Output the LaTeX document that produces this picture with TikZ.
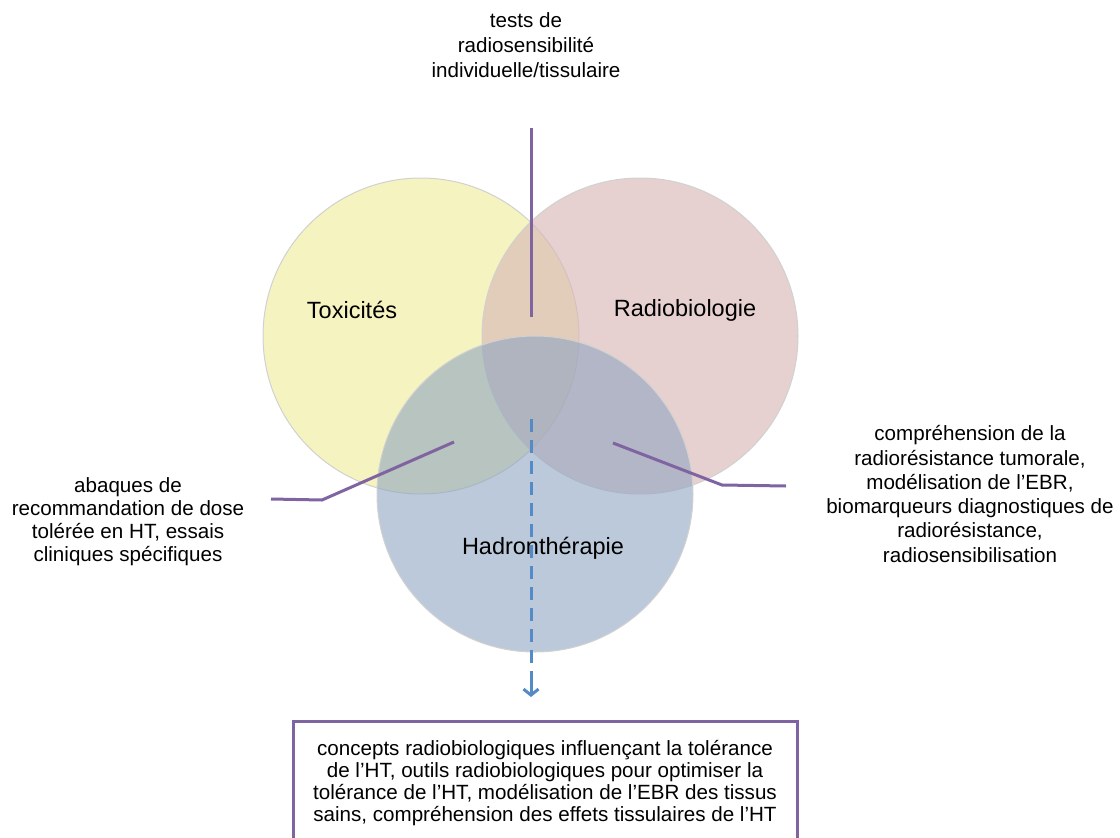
\documentclass[tikz,border=0pt]{standalone}
\usepackage{fontspec}
\setmainfont{Liberation Sans}
\usepackage{tikz}
\usetikzlibrary{arrows.meta}

\definecolor{jaune}{RGB}{245,243,192}
\definecolor{rose}{RGB}{217,184,183}
\definecolor{bleu}{RGB}{143,165,193}
\definecolor{violet}{RGB}{128,100,162}
\definecolor{fleche}{RGB}{84,138,198}

\begin{document}
\begin{tikzpicture}[x=1pt,y=-1pt]
\tikzset{disque/.style={draw=black!18,line width=1pt,circle,minimum size=316pt,inner sep=0pt},
  texte/.style={align=center,font=\fontsize{20.6}{23}\selectfont,inner sep=0pt},
  titre/.style={font=\fontsize{23.5}{28}\selectfont,inner sep=0pt},
  renvoi/.style={violet,line width=3pt},
  lien/.style={fleche,line width=3pt}}
\path[use as bounding box] (0,0) rectangle (1120,838);
\clip (0,0) rectangle (1120,838);

\node (tox) at (421,336) [disque,fill=jaune] {};
\node (radio) at (640,336) [disque,fill=rose,fill opacity=0.65] {};
\node (hadron) at (535,494) [disque,fill=bleu,fill opacity=0.6] {};

\node (ltox) at (352,310) [titre] {Toxicités};
\node (lradio) at (685,310) [titre] {Radiobiologie};
\node (lhadron) at (543,548) [titre] {Hadronthérapie};

\node (tests) at (526,45) [texte,font=\fontsize{20.6}{25}\selectfont] {tests de\\radiosensibilité\\individuelle/tissulaire};
\node (abaques) at (128,522) [texte] {abaques de\\recommandation de dose\\tolérée en HT, essais\\cliniques spécifiques};
\node (compr) at (970,494) [texte,font=\fontsize{20.6}{24.3}\selectfont] {compréhension de la\\radiorésistance tumorale,\\modélisation de l’EBR,\\biomarqueurs diagnostiques de\\radiorésistance,\\radiosensibilisation};
\node (bilan) at (545,720) [texte,anchor=north,draw=violet,line width=3pt,minimum width=504pt,minimum height=124pt,font=\fontsize{20.6}{22}\selectfont] {concepts radiobiologiques influençant la tolérance\\de l’HT, outils radiobiologiques pour optimiser la\\tolérance de l’HT, modélisation de l’EBR des tissus\\sains, compréhension des effets tissulaires de l’HT};

\coordinate (t1) at (531,128);
\coordinate (t2) at (531,317);
\coordinate (g1) at (271,499);
\coordinate (g2) at (322,500);
\coordinate (g3) at (454,442);
\coordinate (d1) at (786,486);
\coordinate (d2) at (722,485);
\coordinate (d3) at (613,443);
\coordinate (f1) at (531,419);
\coordinate (f2) at ([xshift=-14pt,yshift=36pt]bilan.north);
\coordinate (f3) at ([xshift=-14pt,yshift=23pt]bilan.north);

\path
(t1) edge [renvoi] (t2);
\draw [renvoi] (g1) -- (g2) -- (g3);
\draw [renvoi] (d1) -- (d2) -- (d3);
% trait pointille puis pointe pleine
\draw [lien,dash pattern=on 13pt off 8pt] (f1) -- (f2);
\draw [lien,-{Straight Barb[length=6pt,width=15pt]}] (f2) -- (f3);
\end{tikzpicture}
\end{document}
